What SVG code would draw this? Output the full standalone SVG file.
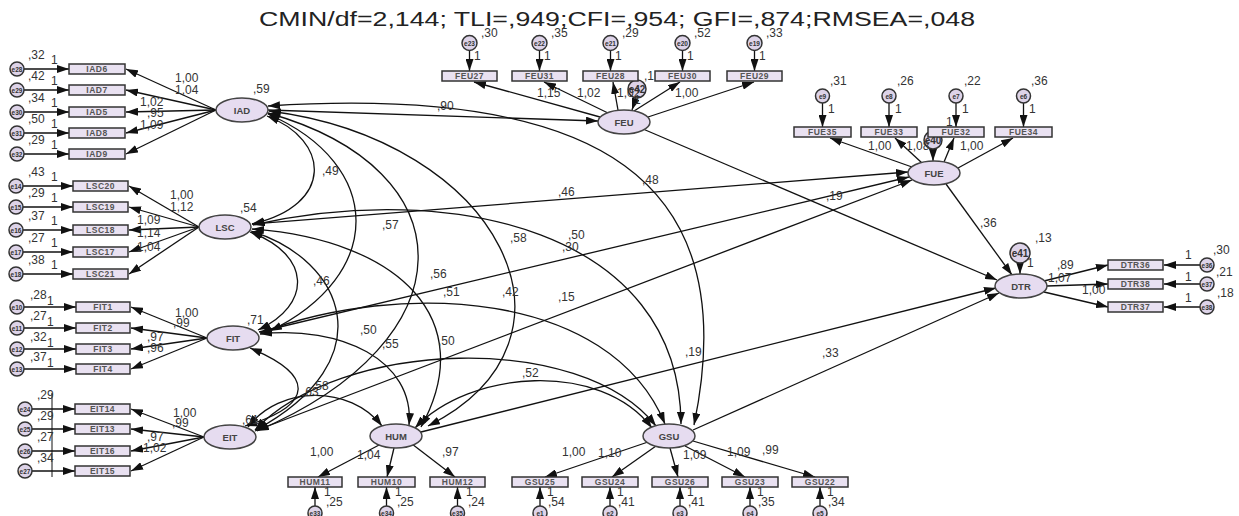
<svg xmlns="http://www.w3.org/2000/svg" width="1239" height="516" viewBox="0 0 1239 516">
<defs>
<marker id="ah" viewBox="0 0 12 8" refX="12" refY="4" markerWidth="12" markerHeight="8" markerUnits="userSpaceOnUse" orient="auto-start-reverse"><path d="M0,0 L12,4 L0,8 z" fill="#111"/></marker>
</defs>
<style>
text{font-family:"Liberation Sans",Arial,sans-serif;fill:#222}
.t{font-size:20px;fill:#222}
.v{font-size:12px;fill:#333}
.b{font-size:8.5px;font-weight:bold;fill:#555;text-anchor:middle;letter-spacing:0.5px}
.l{font-size:9.5px;font-weight:bold;fill:#444;text-anchor:middle}
.e{font-size:6.5px;font-weight:bold;fill:#333;text-anchor:middle}
.e2{font-size:10px;font-weight:bold;fill:#333;text-anchor:middle}
.box{fill:#e9e1f1;stroke:#333;stroke-width:1.5}
.lat{fill:#e6dcf0;stroke:#444;stroke-width:1.5}
.err{fill:#ddd3e8;stroke:#333;stroke-width:1.5}
#connectors path,#connectors line{fill:none;stroke:#111;stroke-width:1.3}
#connectors .p{marker-end:url(#ah)}
#connectors .d{marker-start:url(#ah);marker-end:url(#ah)}
</style>
<rect width="1239" height="516" fill="#fff"/>
<text class="t" x="617" y="26" text-anchor="middle" textLength="716" lengthAdjust="spacingAndGlyphs">CMIN/df=2,144; TLI=,949;CFI=,954; GFI=,874;RMSEA=,048</text>

<g id="connectors">
<line class="p" x1="216" y1="110" x2="126" y2="69"/>
<line class="p" x1="216" y1="110" x2="126" y2="90"/>
<line class="p" x1="216" y1="110" x2="126" y2="112"/>
<line class="p" x1="216" y1="110" x2="126" y2="133"/>
<line class="p" x1="216" y1="110" x2="126" y2="154"/>
<line class="p" x1="24" y1="69" x2="69" y2="69"/>
<line class="p" x1="24" y1="90" x2="69" y2="90"/>
<line class="p" x1="24" y1="112" x2="69" y2="112"/>
<line class="p" x1="24" y1="133" x2="69" y2="133"/>
<line class="p" x1="24" y1="154" x2="69" y2="154"/>
<line class="p" x1="199" y1="227" x2="129" y2="186"/>
<line class="p" x1="199" y1="227" x2="129" y2="207"/>
<line class="p" x1="199" y1="227" x2="129" y2="230"/>
<line class="p" x1="199" y1="227" x2="129" y2="252"/>
<line class="p" x1="199" y1="227" x2="129" y2="274"/>
<line class="p" x1="23" y1="186" x2="73" y2="186"/>
<line class="p" x1="23" y1="207" x2="73" y2="207"/>
<line class="p" x1="23" y1="230" x2="73" y2="230"/>
<line class="p" x1="23" y1="252" x2="73" y2="252"/>
<line class="p" x1="23" y1="274" x2="73" y2="274"/>
<line class="p" x1="207" y1="338" x2="131" y2="307"/>
<line class="p" x1="207" y1="338" x2="131" y2="328"/>
<line class="p" x1="207" y1="338" x2="131" y2="349"/>
<line class="p" x1="207" y1="338" x2="131" y2="369"/>
<line class="p" x1="24" y1="307" x2="76" y2="307"/>
<line class="p" x1="24" y1="328" x2="76" y2="328"/>
<line class="p" x1="24" y1="349" x2="76" y2="349"/>
<line class="p" x1="24" y1="369" x2="76" y2="369"/>
<line class="p" x1="204" y1="437" x2="131" y2="409"/>
<line class="p" x1="204" y1="437" x2="131" y2="429"/>
<line class="p" x1="204" y1="437" x2="131" y2="451"/>
<line class="p" x1="204" y1="437" x2="131" y2="471"/>
<line class="p" x1="32" y1="409" x2="75" y2="409"/>
<line class="p" x1="32" y1="429" x2="75" y2="429"/>
<line class="p" x1="32" y1="451" x2="75" y2="451"/>
<line class="p" x1="32" y1="471" x2="75" y2="471"/>
<line x1="52" y1="393" x2="52" y2="477" style="stroke-width:1"/>
<line class="p" x1="600" y1="117" x2="474" y2="82"/>
<line class="p" x1="608" y1="113" x2="544" y2="82"/>
<line class="p" x1="618" y1="110" x2="613" y2="82"/>
<line class="p" x1="634" y1="111" x2="680" y2="82"/>
<line class="p" x1="648" y1="117" x2="754" y2="82"/>
<line class="p" x1="469.5" y1="50.5" x2="469.5" y2="71"/>
<line class="p" x1="539.5" y1="50.5" x2="539.5" y2="71"/>
<line class="p" x1="610.5" y1="50.5" x2="610.5" y2="71"/>
<line class="p" x1="682.5" y1="50.5" x2="682.5" y2="71"/>
<line class="p" x1="754.5" y1="50.5" x2="754.5" y2="71"/>
<line class="p" x1="636" y1="98" x2="632" y2="110"/>
<line class="p" x1="912" y1="167" x2="830" y2="138"/>
<line class="p" x1="922" y1="163" x2="895" y2="138"/>
<line class="p" x1="944" y1="162" x2="954" y2="138"/>
<line class="p" x1="958" y1="168" x2="1013" y2="138"/>
<line class="p" x1="822.5" y1="103" x2="822.5" y2="127"/>
<line class="p" x1="889" y1="103" x2="889" y2="127"/>
<line class="p" x1="956" y1="103" x2="956" y2="127"/>
<line class="p" x1="1023.5" y1="103" x2="1023.5" y2="127"/>
<line class="p" x1="933" y1="149" x2="933" y2="161"/>
<line class="p" x1="1044" y1="281" x2="1108" y2="265"/>
<line class="p" x1="1047" y1="286" x2="1108" y2="284"/>
<line class="p" x1="1044" y1="292" x2="1108" y2="307"/>
<line class="p" x1="1200" y1="265" x2="1164" y2="265"/>
<line class="p" x1="1200" y1="284" x2="1164" y2="284"/>
<line class="p" x1="1200" y1="307" x2="1164" y2="307"/>
<line class="p" x1="1020" y1="263" x2="1020" y2="274"/>
<line class="p" x1="381" y1="444" x2="318" y2="477"/>
<line class="p" x1="394" y1="448" x2="387" y2="477"/>
<line class="p" x1="412" y1="444" x2="455" y2="477"/>
<line class="p" x1="315" y1="506" x2="315" y2="487"/>
<line class="p" x1="386.5" y1="506" x2="386.5" y2="487"/>
<line class="p" x1="457.5" y1="506" x2="457.5" y2="487"/>
<line class="p" x1="648" y1="442" x2="545" y2="477"/>
<line class="p" x1="656" y1="446" x2="612" y2="477"/>
<line class="p" x1="670" y1="448" x2="678" y2="477"/>
<line class="p" x1="685" y1="446" x2="745" y2="477"/>
<line class="p" x1="693" y1="441" x2="815" y2="477"/>
<line class="p" x1="540" y1="506" x2="540" y2="487"/>
<line class="p" x1="610" y1="506" x2="610" y2="487"/>
<line class="p" x1="680" y1="506" x2="680" y2="487"/>
<line class="p" x1="750" y1="506" x2="750" y2="487"/>
<line class="p" x1="820" y1="506" x2="820" y2="487"/>
<line class="p" x1="268" y1="110" x2="598" y2="121"/>
<line class="p" x1="643" y1="129" x2="997" y2="280"/>
<line class="p" x1="252" y1="224" x2="908" y2="172"/>
<line class="p" x1="259" y1="332" x2="909" y2="177"/>
<line class="p" x1="255" y1="431" x2="912" y2="180"/>
<line class="p" x1="946" y1="184" x2="1012" y2="275"/>
<line class="p" x1="421" y1="432" x2="996" y2="288"/>
<line class="p" x1="693" y1="430" x2="999" y2="293"/>
<path class="d" d="M267,116 C330,140 335,205 252,224"/>
<path class="d" d="M268,114 C385,165 385,275 270,331"/>
<path class="d" d="M268,113 C470,170 470,340 257,431"/>
<path class="d" d="M269,111 C500,140 600,340 428,426"/>
<path class="d" d="M268,106 C600,85 745,180 694,425"/>
<path class="d" d="M250,232 C312,255 312,305 258,330"/>
<path class="d" d="M251,231 C345,260 385,360 256,430"/>
<path class="d" d="M252,229 C400,240 480,320 421,427"/>
<path class="d" d="M253,225 C450,180 680,230 681,424"/>
<path class="d" d="M250,348 C315,375 315,405 245,426"/>
<path class="d" d="M260,334 C340,325 415,360 409,425"/>
<path class="d" d="M260,333 C400,280 610,290 665,424"/>
<path class="d" d="M248,427 C280,385 350,385 382,426"/>
<path class="d" d="M255,430 C340,340 580,330 656,426"/>
<path class="d" d="M415,428 C470,370 600,360 652,428"/>
</g>

<g id="IAD"><ellipse class="lat" cx="242" cy="110" rx="26" ry="12"/><text class="l" x="242" y="113.5">IAD</text><text class="v" x="253" y="93">,59</text></g>
<g id="LSC"><ellipse class="lat" cx="225" cy="227" rx="26" ry="12"/><text class="l" x="225" y="230.5">LSC</text><text class="v" x="240" y="212">,54</text></g>
<g id="FIT"><ellipse class="lat" cx="233" cy="338" rx="26" ry="12"/><text class="l" x="233" y="341.5">FIT</text><text class="v" x="247" y="324">,71</text></g>
<g id="EIT"><ellipse class="lat" cx="230" cy="437" rx="26" ry="12"/><text class="l" x="230" y="440.5">EIT</text><text class="v" x="242" y="424">,61</text></g>
<g id="HUM"><ellipse class="lat" cx="396" cy="436" rx="26" ry="12"/><text class="l" x="396" y="439.5">HUM</text></g>
<g id="GSU"><ellipse class="lat" cx="669" cy="436" rx="26" ry="12"/><text class="l" x="669" y="439.5">GSU</text></g>
<g id="FEU"><ellipse class="lat" cx="624" cy="122" rx="26" ry="12"/><text class="l" x="624" y="125.5">FEU</text></g>
<g id="FUE"><ellipse class="lat" cx="934" cy="173" rx="26" ry="12"/><text class="l" x="934" y="176.5">FUE</text></g>
<g id="DTR"><ellipse class="lat" cx="1021" cy="286" rx="26" ry="12"/><text class="l" x="1021" y="289.5">DTR</text></g>

<g id="e40"><circle class="err" cx="933" cy="140" r="9"/><text class="e2" x="933" y="143.5">e40</text><text class="v" x="946" y="126">1</text></g>
<g id="e41"><circle class="err" cx="1020" cy="253" r="10"/><text class="e2" x="1020" y="256.5">e41</text><text class="v" x="1027" y="267">1</text><text class="v" x="1035" y="242">,13</text></g>
<g id="e42"><circle class="err" cx="637" cy="89" r="9"/><text class="e2" x="637" y="92.5">e42</text><text class="v" x="634" y="104">1</text><text class="v" x="644" y="80">,1</text></g>

<g id="IAD6"><rect class="box" x="69" y="64" width="56" height="10"/><text class="b" x="97" y="72">IAD6</text></g>
<g id="IAD7"><rect class="box" x="69" y="85" width="56" height="10"/><text class="b" x="97" y="93">IAD7</text></g>
<g id="IAD5"><rect class="box" x="69" y="107" width="56" height="10"/><text class="b" x="97" y="115">IAD5</text></g>
<g id="IAD8"><rect class="box" x="69" y="128" width="56" height="10"/><text class="b" x="97" y="136">IAD8</text></g>
<g id="IAD9"><rect class="box" x="69" y="149" width="56" height="10"/><text class="b" x="97" y="157">IAD9</text></g>
<g id="e28"><circle class="err" cx="17" cy="69" r="7"/><text class="e" x="17" y="71.5">e28</text><text class="v" x="28" y="59">,32</text><text class="v" x="51" y="64">1</text></g>
<g id="e29"><circle class="err" cx="17" cy="90" r="7"/><text class="e" x="17" y="92.5">e29</text><text class="v" x="28" y="80">,42</text><text class="v" x="51" y="85">1</text></g>
<g id="e30"><circle class="err" cx="17" cy="112" r="7"/><text class="e" x="17" y="114.5">e30</text><text class="v" x="28" y="102">,34</text><text class="v" x="51" y="107">1</text></g>
<g id="e31"><circle class="err" cx="17" cy="133" r="7"/><text class="e" x="17" y="135.5">e31</text><text class="v" x="28" y="123">,50</text><text class="v" x="51" y="128">1</text></g>
<g id="e32"><circle class="err" cx="17" cy="154" r="7"/><text class="e" x="17" y="156.5">e32</text><text class="v" x="28" y="144">,29</text><text class="v" x="51" y="149">1</text></g>

<g id="LSC20"><rect class="box" x="73" y="181" width="55" height="10"/><text class="b" x="100.5" y="189">LSC20</text></g>
<g id="LSC19"><rect class="box" x="73" y="202" width="55" height="10"/><text class="b" x="100.5" y="210">LSC19</text></g>
<g id="LSC18"><rect class="box" x="73" y="225" width="55" height="10"/><text class="b" x="100.5" y="233">LSC18</text></g>
<g id="LSC17"><rect class="box" x="73" y="247" width="55" height="10"/><text class="b" x="100.5" y="255">LSC17</text></g>
<g id="LSC21"><rect class="box" x="73" y="269" width="55" height="10"/><text class="b" x="100.5" y="277">LSC21</text></g>
<g id="e14"><circle class="err" cx="16" cy="186" r="7"/><text class="e" x="16" y="188.5">e14</text><text class="v" x="28" y="176">,43</text><text class="v" x="51" y="181">1</text></g>
<g id="e15"><circle class="err" cx="16" cy="207" r="7"/><text class="e" x="16" y="209.5">e15</text><text class="v" x="28" y="197">,29</text><text class="v" x="51" y="202">1</text></g>
<g id="e16"><circle class="err" cx="16" cy="230" r="7"/><text class="e" x="16" y="232.5">e16</text><text class="v" x="28" y="220">,37</text><text class="v" x="51" y="225">1</text></g>
<g id="e17"><circle class="err" cx="16" cy="252" r="7"/><text class="e" x="16" y="254.5">e17</text><text class="v" x="28" y="242">,27</text><text class="v" x="51" y="247">1</text></g>
<g id="e18"><circle class="err" cx="16" cy="274" r="7"/><text class="e" x="16" y="276.5">e18</text><text class="v" x="28" y="264">,38</text><text class="v" x="51" y="269">1</text></g>

<g id="FIT1"><rect class="box" x="76" y="302" width="54" height="10"/><text class="b" x="103" y="310">FIT1</text></g>
<g id="FIT2"><rect class="box" x="76" y="323" width="54" height="10"/><text class="b" x="103" y="331">FIT2</text></g>
<g id="FIT3"><rect class="box" x="76" y="344" width="54" height="10"/><text class="b" x="103" y="352">FIT3</text></g>
<g id="FIT4"><rect class="box" x="76" y="364" width="54" height="10"/><text class="b" x="103" y="372">FIT4</text></g>
<g id="e10"><circle class="err" cx="17" cy="307" r="7"/><text class="e" x="17" y="309.5">e10</text><text class="v" x="30" y="299">,28</text><text class="v" x="47" y="305">1</text></g>
<g id="e11"><circle class="err" cx="17" cy="328" r="7"/><text class="e" x="17" y="330.5">e11</text><text class="v" x="30" y="320">,27</text><text class="v" x="47" y="326">1</text></g>
<g id="e12"><circle class="err" cx="17" cy="349" r="7"/><text class="e" x="17" y="351.5">e12</text><text class="v" x="30" y="341">,32</text><text class="v" x="47" y="347">1</text></g>
<g id="e13"><circle class="err" cx="17" cy="369" r="7"/><text class="e" x="17" y="371.5">e13</text><text class="v" x="30" y="361">,37</text><text class="v" x="47" y="367">1</text></g>

<g id="EIT14"><rect class="box" x="75" y="404" width="55" height="10"/><text class="b" x="102.5" y="412">EIT14</text></g>
<g id="EIT13"><rect class="box" x="75" y="424" width="55" height="10"/><text class="b" x="102.5" y="432">EIT13</text></g>
<g id="EIT16"><rect class="box" x="75" y="446" width="55" height="10"/><text class="b" x="102.5" y="454">EIT16</text></g>
<g id="EIT15"><rect class="box" x="75" y="466" width="55" height="10"/><text class="b" x="102.5" y="474">EIT15</text></g>
<g id="e24"><circle class="err" cx="25" cy="409" r="7"/><text class="e" x="25" y="411.5">e24</text><text class="v" x="37" y="399">,29</text></g>
<g id="e25"><circle class="err" cx="25" cy="429" r="7"/><text class="e" x="25" y="431.5">e25</text><text class="v" x="37" y="420">,29</text></g>
<g id="e26"><circle class="err" cx="25" cy="451" r="7"/><text class="e" x="25" y="453.5">e26</text><text class="v" x="37" y="441">,27</text></g>
<g id="e27"><circle class="err" cx="25" cy="471" r="7"/><text class="e" x="25" y="473.5">e27</text><text class="v" x="37" y="462">,34</text></g>

<g id="FEU27"><rect class="box" x="442" y="71" width="55" height="10"/><text class="b" x="469.5" y="79">FEU27</text></g>
<g id="FEU31"><rect class="box" x="512" y="71" width="55" height="10"/><text class="b" x="539.5" y="79">FEU31</text></g>
<g id="FEU28"><rect class="box" x="583" y="71" width="55" height="10"/><text class="b" x="610.5" y="79">FEU28</text></g>
<g id="FEU30"><rect class="box" x="655" y="71" width="55" height="10"/><text class="b" x="682.5" y="79">FEU30</text></g>
<g id="FEU29"><rect class="box" x="727" y="71" width="55" height="10"/><text class="b" x="754.5" y="79">FEU29</text></g>
<g id="e23"><circle class="err" cx="469.5" cy="43" r="7.5"/><text class="e" x="469.5" y="45.5">e23</text><text class="v" x="481" y="37">,30</text><text class="v" x="474" y="60">1</text></g>
<g id="e22"><circle class="err" cx="539.5" cy="43" r="7.5"/><text class="e" x="539.5" y="45.5">e22</text><text class="v" x="551" y="37">,35</text><text class="v" x="544" y="60">1</text></g>
<g id="e21"><circle class="err" cx="610.5" cy="43" r="7.5"/><text class="e" x="610.5" y="45.5">e21</text><text class="v" x="622" y="37">,29</text><text class="v" x="615" y="60">1</text></g>
<g id="e20"><circle class="err" cx="682.5" cy="43" r="7.5"/><text class="e" x="682.5" y="45.5">e20</text><text class="v" x="694" y="37">,52</text><text class="v" x="687" y="60">1</text></g>
<g id="e19"><circle class="err" cx="754.5" cy="43" r="7.5"/><text class="e" x="754.5" y="45.5">e19</text><text class="v" x="766" y="37">,33</text><text class="v" x="759" y="60">1</text></g>

<g id="FUE35"><rect class="box" x="794" y="127" width="57" height="10"/><text class="b" x="822.5" y="135">FUE35</text></g>
<g id="FUE33"><rect class="box" x="861" y="127" width="56" height="10"/><text class="b" x="889" y="135">FUE33</text></g>
<g id="FUE32"><rect class="box" x="928" y="127" width="56" height="10"/><text class="b" x="956" y="135">FUE32</text></g>
<g id="FUE34"><rect class="box" x="995" y="127" width="57" height="10"/><text class="b" x="1023.5" y="135">FUE34</text></g>
<g id="e9"><circle class="err" cx="822.5" cy="96" r="7"/><text class="e" x="822.5" y="98.5">e9</text><text class="v" x="830" y="85">,31</text><text class="v" x="828" y="113">1</text></g>
<g id="e8"><circle class="err" cx="889" cy="96" r="7"/><text class="e" x="889" y="98.5">e8</text><text class="v" x="897" y="85">,26</text><text class="v" x="895" y="113">1</text></g>
<g id="e7"><circle class="err" cx="956" cy="96" r="7"/><text class="e" x="956" y="98.5">e7</text><text class="v" x="964" y="85">,22</text><text class="v" x="962" y="113">1</text></g>
<g id="e6"><circle class="err" cx="1023.5" cy="96" r="7"/><text class="e" x="1023.5" y="98.5">e6</text><text class="v" x="1031" y="85">,36</text><text class="v" x="1029" y="113">1</text></g>

<g id="DTR36"><rect class="box" x="1108" y="260" width="55" height="10"/><text class="b" x="1135.5" y="268">DTR36</text></g>
<g id="DTR38"><rect class="box" x="1108" y="279" width="55" height="10"/><text class="b" x="1135.5" y="287">DTR38</text></g>
<g id="DTR37"><rect class="box" x="1108" y="302" width="55" height="10"/><text class="b" x="1135.5" y="310">DTR37</text></g>
<g id="e36"><circle class="err" cx="1207" cy="265" r="7"/><text class="e" x="1207" y="267.5">e36</text><text class="v" x="1213" y="254">,30</text><text class="v" x="1185" y="259">1</text></g>
<g id="e37"><circle class="err" cx="1207" cy="284" r="7"/><text class="e" x="1207" y="286.5">e37</text><text class="v" x="1216" y="276">,21</text><text class="v" x="1185" y="281">1</text></g>
<g id="e38"><circle class="err" cx="1207" cy="307" r="7"/><text class="e" x="1207" y="309.5">e38</text><text class="v" x="1217" y="297">,18</text><text class="v" x="1185" y="302">1</text></g>

<g id="HUM11"><rect class="box" x="288" y="477" width="54" height="10"/><text class="b" x="315" y="485">HUM11</text></g>
<g id="HUM10"><rect class="box" x="358" y="477" width="57" height="10"/><text class="b" x="386.5" y="485">HUM10</text></g>
<g id="HUM12"><rect class="box" x="430" y="477" width="55" height="10"/><text class="b" x="457.5" y="485">HUM12</text></g>
<g id="e33"><circle class="err" cx="315" cy="513" r="7"/><text class="e" x="315" y="515.5">e33</text><text class="v" x="324" y="496">1</text><text class="v" x="326" y="506">,25</text></g>
<g id="e34"><circle class="err" cx="386.5" cy="513" r="7"/><text class="e" x="386.5" y="515.5">e34</text><text class="v" x="395" y="496">1</text><text class="v" x="397" y="506">,25</text></g>
<g id="e35"><circle class="err" cx="457.5" cy="513" r="7"/><text class="e" x="457.5" y="515.5">e35</text><text class="v" x="466" y="496">1</text><text class="v" x="468" y="506">,24</text></g>

<g id="GSU25"><rect class="box" x="512" y="477" width="56" height="10"/><text class="b" x="540" y="485">GSU25</text></g>
<g id="GSU24"><rect class="box" x="582" y="477" width="56" height="10"/><text class="b" x="610" y="485">GSU24</text></g>
<g id="GSU26"><rect class="box" x="652" y="477" width="56" height="10"/><text class="b" x="680" y="485">GSU26</text></g>
<g id="GSU23"><rect class="box" x="722" y="477" width="56" height="10"/><text class="b" x="750" y="485">GSU23</text></g>
<g id="GSU22"><rect class="box" x="792" y="477" width="56" height="10"/><text class="b" x="820" y="485">GSU22</text></g>
<g id="e1"><circle class="err" cx="540" cy="513" r="7"/><text class="e" x="540" y="515.5">e1</text><text class="v" x="547" y="496">1</text><text class="v" x="548" y="506">,54</text></g>
<g id="e2"><circle class="err" cx="610" cy="513" r="7"/><text class="e" x="610" y="515.5">e2</text><text class="v" x="617" y="496">1</text><text class="v" x="618" y="506">,41</text></g>
<g id="e3"><circle class="err" cx="680" cy="513" r="7"/><text class="e" x="680" y="515.5">e3</text><text class="v" x="687" y="496">1</text><text class="v" x="688" y="506">,41</text></g>
<g id="e4"><circle class="err" cx="750" cy="513" r="7"/><text class="e" x="750" y="515.5">e4</text><text class="v" x="757" y="496">1</text><text class="v" x="758" y="506">,35</text></g>
<g id="e5"><circle class="err" cx="820" cy="513" r="7"/><text class="e" x="820" y="515.5">e5</text><text class="v" x="827" y="496">1</text><text class="v" x="828" y="506">,34</text></g>

<g id="labels">
<text class="v" x="175" y="82">1,00</text><text class="v" x="175" y="94">1,04</text><text class="v" x="140" y="106">1,02</text><text class="v" x="147" y="117">,95</text><text class="v" x="140" y="129">1,09</text>
<text class="v" x="170" y="199">1,00</text><text class="v" x="170" y="211">1,12</text><text class="v" x="137" y="224">1,09</text><text class="v" x="137" y="237">1,14</text><text class="v" x="137" y="251">1,04</text>
<text class="v" x="175" y="317">1,00</text><text class="v" x="173" y="327">,99</text><text class="v" x="147" y="341">,97</text><text class="v" x="147" y="352">,96</text>
<text class="v" x="173" y="417">1,00</text><text class="v" x="172" y="427">,99</text><text class="v" x="147" y="441">,97</text><text class="v" x="143" y="452">1,02</text>
<text class="v" x="537" y="97">1,15</text><text class="v" x="577" y="97">1,02</text><text class="v" x="617" y="97">1,02</text><text class="v" x="675" y="97">1,00</text>
<text class="v" x="868" y="150">1,00</text><text class="v" x="906" y="150">1,08</text><text class="v" x="960" y="150">1,00</text>
<text class="v" x="1057" y="269">,89</text><text class="v" x="1048" y="282">1,07</text><text class="v" x="1082" y="294">1,00</text>
<text class="v" x="310" y="456">1,00</text><text class="v" x="357" y="459">1,04</text><text class="v" x="442" y="456">,97</text>
<text class="v" x="562" y="456">1,00</text><text class="v" x="598" y="457">1,10</text><text class="v" x="683" y="459">1,09</text><text class="v" x="727" y="456">1,09</text><text class="v" x="762" y="454">,99</text>
<text class="v" x="437" y="110">,90</text>
<text class="v" x="826" y="200">,19</text>
<text class="v" x="558" y="196">,46</text>
<text class="v" x="562" y="251">,30</text>
<text class="v" x="558" y="301">,15</text>
<text class="v" x="980" y="227">,36</text>
<text class="v" x="685" y="356">,19</text>
<text class="v" x="822" y="357">,33</text>
<text class="v" x="322" y="175">,49</text>
<text class="v" x="382" y="229">,57</text>
<text class="v" x="510" y="242">,58</text>
<text class="v" x="642" y="184">,48</text>
<text class="v" x="568" y="239">,50</text>
<text class="v" x="313" y="285">,46</text>
<text class="v" x="430" y="278">,56</text>
<text class="v" x="443" y="296">,51</text>
<text class="v" x="502" y="296">,42</text>
<text class="v" x="360" y="334">,50</text>
<text class="v" x="382" y="348">,55</text>
<text class="v" x="438" y="345">,50</text>
<text class="v" x="522" y="377">,52</text>
<text class="v" x="312" y="390">,58</text>
<text class="v" x="302" y="396">,63</text>
</g>
</svg>
